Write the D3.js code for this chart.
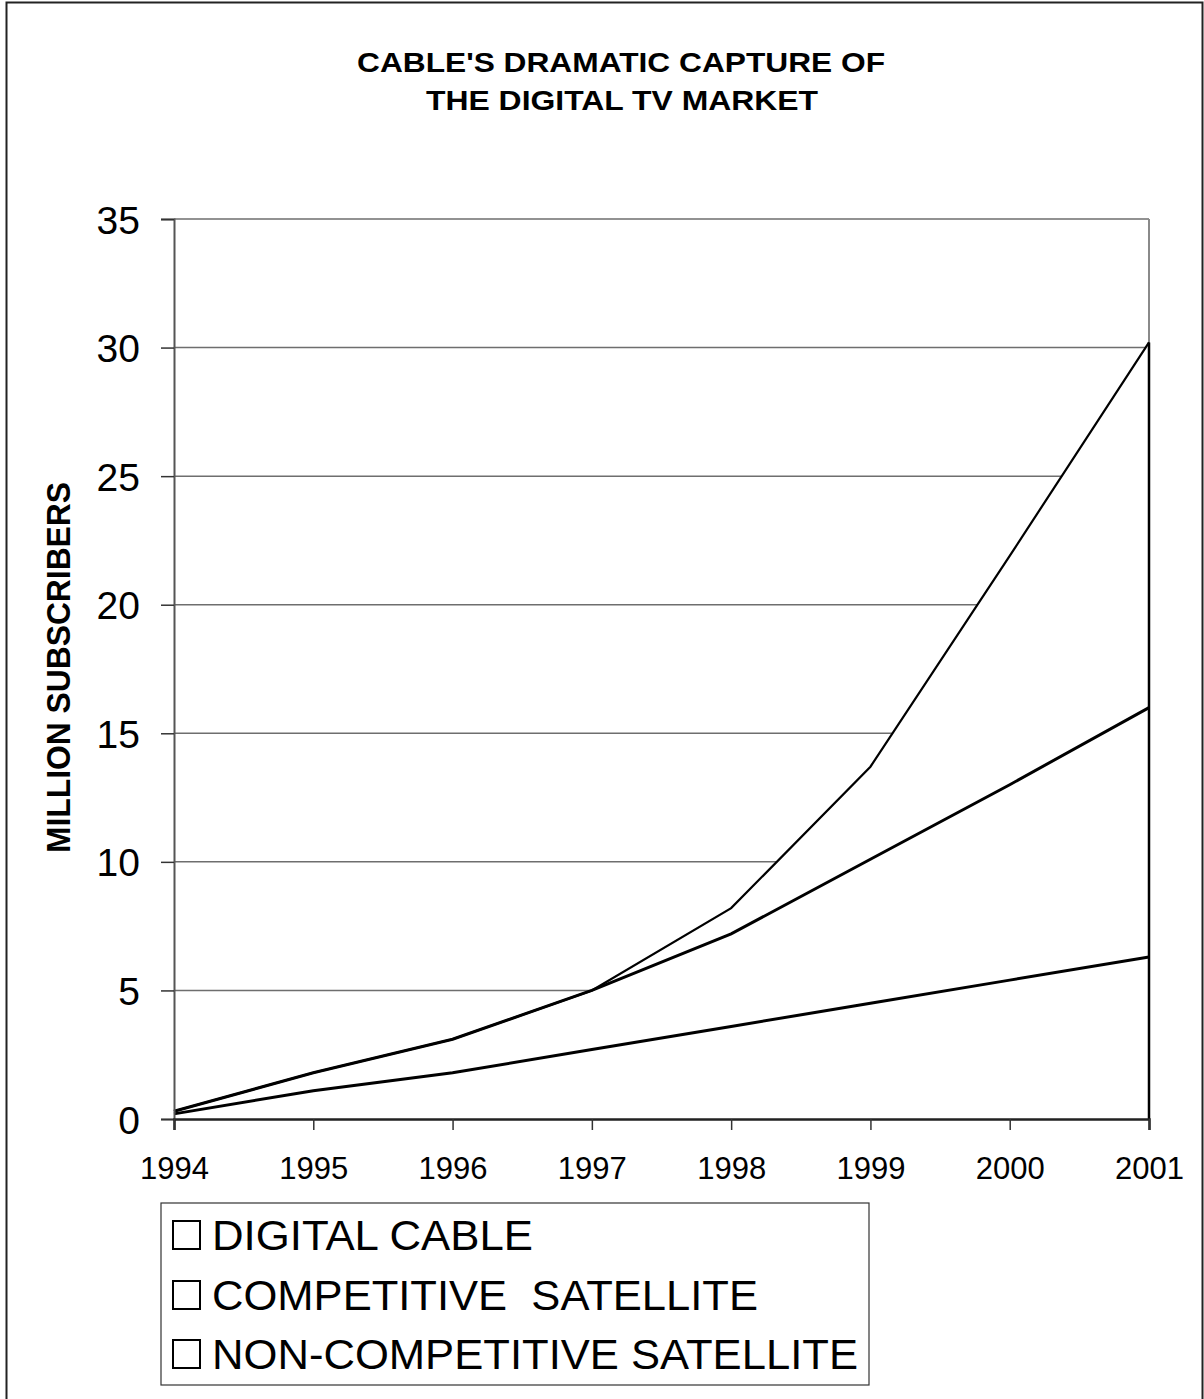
<!DOCTYPE html>
<html>
<head>
<meta charset="utf-8">
<script src="https://cdn.jsdelivr.net/npm/d3@7"></script>
<style>
  html, body { margin: 0; padding: 0; background: #fff; }
  svg { display: block; }
  text { font-family: "Liberation Sans", Arial, sans-serif; fill: #000; }
</style>
</head>
<body>
<svg id="chart" width="1204" height="1399"></svg>
<script>
// ---- Data ----
const years = [1994, 1995, 1996, 1997, 1998, 1999, 2000, 2001];
const nonCompetitiveSatellite = [0.2, 1.1, 1.8, 2.7, 3.6, 4.5, 5.4, 6.3];
const competitiveSatellite    = [0.1, 0.7, 1.3, 2.3, 3.6, 5.6, 7.6, 9.7];
const digitalCable            = [0.0, 0.0, 0.0, 0.0, 1.0, 3.6, 8.9, 14.2];
const yTicks = [0, 5, 10, 15, 20, 25, 30, 35];
const legendLabels = ["DIGITAL CABLE", "COMPETITIVE\u00a0\u00a0SATELLITE", "NON-COMPETITIVE SATELLITE"];
const titleLines = ["CABLE'S DRAMATIC CAPTURE OF", "THE DIGITAL TV MARKET"];
const yLabel = "MILLION SUBSCRIBERS";

// ---- Layout ----
const svg = d3.select("#chart");
const plot = { left: 174, right: 1149, top: 219, bottom: 1119 };

const x = d3.scalePoint().domain(years).range([plot.left, plot.right]);
const y = d3.scaleLinear().domain([0, 35]).range([plot.bottom, plot.top]);

// outer frame
svg.append("rect").attr("x", 6.5).attr("y", 2.5).attr("width", 1196).attr("height", 1420)
  .attr("fill", "none").attr("stroke", "#222").attr("stroke-width", 2);

// title
const tl = [{ t: titleLines[0], x: 357, y: 72, w: 528 }, { t: titleLines[1], x: 426, y: 110, w: 392 }];
svg.selectAll("text.title").data(tl).join("text").attr("class", "title")
  .attr("x", d => d.x).attr("y", d => d.y)
  .attr("font-size", 28).attr("font-weight", "bold")
  .attr("textLength", d => d.w).attr("lengthAdjust", "spacingAndGlyphs")
  .text(d => d.t);

// y-axis label
svg.append("text")
  .attr("transform", "translate(70,667.5) rotate(-90)")
  .attr("text-anchor", "middle")
  .attr("font-size", 34).attr("font-weight", "bold")
  .attr("textLength", 371).attr("lengthAdjust", "spacingAndGlyphs")
  .text(yLabel);

// gridlines
svg.append("g").selectAll("line").data(yTicks.filter(v => v > 0)).join("line")
  .attr("x1", plot.left).attr("x2", plot.right)
  .attr("y1", d => y(d)).attr("y2", d => y(d))
  .attr("stroke", "#6e6e6e").attr("stroke-width", 1.5);
// right plot border (gray)
svg.append("line").attr("x1", plot.right).attr("x2", plot.right)
  .attr("y1", plot.top).attr("y2", plot.bottom)
  .attr("stroke", "#8a8a8a").attr("stroke-width", 2);

// stacked areas
const rows = years.map((yr, i) => ({
  year: yr,
  non: nonCompetitiveSatellite[i],
  comp: competitiveSatellite[i],
  cable: digitalCable[i]
}));
const stack = d3.stack().keys(["non", "comp", "cable"]);
const series = stack(rows);

const area = d3.area()
  .x(d => x(d.data.year))
  .y0(d => y(d[0]))
  .y1(d => y(d[1]));
const topLine = d3.line()
  .x(d => x(d.data.year))
  .y(d => y(d[1]));

// fill white (covers gridlines), top series first so lower ones draw on top
svg.append("g").selectAll("path").data(series.slice().reverse()).join("path")
  .attr("d", area).attr("fill", "#fff").attr("stroke", "none");

const widths = { non: 3, comp: 3, cable: 2.2 };
svg.append("g").selectAll("path").data(series.slice().reverse()).join("path")
  .attr("d", topLine).attr("fill", "none")
  .attr("stroke", "#000").attr("stroke-width", d => widths[d.key])
  .attr("stroke-linejoin", "miter");

// right edge of filled areas (black)
const totals = series[series.length - 1];
svg.append("line")
  .attr("x1", plot.right).attr("x2", plot.right)
  .attr("y1", y(totals[totals.length - 1][1])).attr("y2", plot.bottom)
  .attr("stroke", "#000").attr("stroke-width", 2.5);

// y axis
const yAxis = svg.append("g").attr("transform", `translate(${plot.left},0)`)
  .call(d3.axisLeft(y).tickValues(yTicks).tickSize(13).tickPadding(21).tickFormat(d3.format("d")));
yAxis.select(".domain").attr("stroke", "#555").attr("stroke-width", 2);
yAxis.selectAll(".tick line").attr("stroke", "#333").attr("stroke-width", 1.5);
yAxis.selectAll(".tick text").attr("font-size", 39).attr("fill", "#000")
  .attr("font-family", "'Liberation Sans', Arial, sans-serif").attr("dy", "0.36em");

// x axis
const xAxis = svg.append("g").attr("transform", `translate(0,${plot.bottom})`)
  .call(d3.axisBottom(x).tickSize(11).tickPadding(27).tickFormat(d3.format("d")));
xAxis.select(".domain").attr("stroke", "#222").attr("stroke-width", 2.5);
xAxis.selectAll(".tick line").attr("stroke", "#333").attr("stroke-width", 1.5);
xAxis.selectAll(".tick text").attr("font-size", 31).attr("fill", "#000")
  .attr("font-family", "'Liberation Sans', Arial, sans-serif").attr("dy", "0.7em");

// legend
const lg = svg.append("g");
lg.append("rect").attr("x", 161).attr("y", 1203).attr("width", 708).attr("height", 182)
  .attr("fill", "#fff").attr("stroke", "#333").attr("stroke-width", 1.2);
const legendRows = legendLabels.map((t, i) => ({ t, base: [1250, 1310, 1369][i], w: [321, 546, 646][i] }));
lg.selectAll("rect.sw").data(legendRows).join("rect").attr("class", "sw")
  .attr("x", 173).attr("y", d => d.base - 29).attr("width", 27).attr("height", 28)
  .attr("fill", "#fff").attr("stroke", "#000").attr("stroke-width", 2);
lg.selectAll("text").data(legendRows).join("text")
  .attr("x", 212).attr("y", d => d.base)
  .attr("font-size", 43)
  .attr("textLength", d => d.w).attr("lengthAdjust", "spacingAndGlyphs")
  .text(d => d.t);
</script>
</body>
</html>
